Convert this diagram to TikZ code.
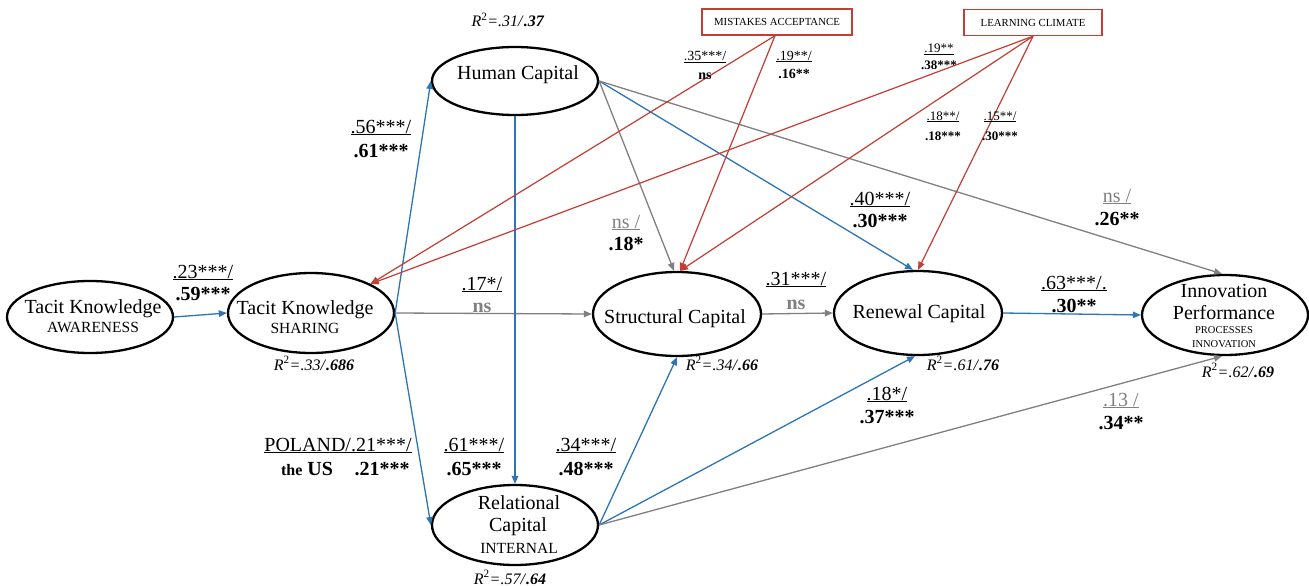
\documentclass[tikz,border=0pt]{standalone}
\usepackage{fontspec}
\setmainfont{Liberation Serif}
\usetikzlibrary{shapes.geometric,arrows.meta}
\definecolor{cblue}{RGB}{46,117,182}
\definecolor{cred}{RGB}{196,62,52}
\definecolor{cgray}{RGB}{128,128,128}
\newcommand{\twolab}[7]{%
  \node[#2,anchor=base] (#1t) at (#3,#4) {#6};
  \node[#2,anchor=base] (#1b) at (#3,#5) {#7};}
\newcommand{\rsq}[2]{\textit{R}\textsuperscript{2}\textit{=#1/}\textbf{\textit{#2}}}
\begin{document}
\begin{tikzpicture}[x=1pt,y=-1pt,
  ell/.style={draw, ellipse, line width=2.3pt, inner sep=0pt},
  conn/.style={line width=1.3pt, -{Triangle[length=8pt,width=6.5pt]}},
  blu/.style={conn, draw=cblue, fill=cblue},
  gry/.style={conn, draw=cgray, fill=cgray},
  rd/.style={conn, draw=cred, fill=cred, line width=1.2pt},
  modbox/.style={draw=cred, line width=1.4pt, minimum height=26pt, inner sep=0pt, font=\fontsize{10.8}{12}\selectfont},
  ttl/.style={inner sep=0pt, font=\fontsize{20}{22}\selectfont},
  sub/.style={inner sep=0pt, font=\fontsize{15.5}{17}\selectfont},
  tinysub/.style={inner sep=0pt, font=\fontsize{10.5}{12}\selectfont},
  elbl/.style={inner sep=0pt, font=\fontsize{20}{22}\selectfont},
  slbl/.style={inner sep=0pt, font=\fontsize{14}{16}\selectfont},
  xlbl/.style={inner sep=0pt, font=\fontsize{13}{15}\selectfont},
  rlbl/.style={inner sep=0pt, font=\fontsize{16}{18}\selectfont}]
\useasboundingbox (0,0) rectangle (1309,586);

% ellipses
\node[ell, minimum width=166pt, minimum height=72pt] (aw) at (90,317) {};
\node[ell, minimum width=166pt, minimum height=80pt] (sh) at (311,313) {};
\node[ell, minimum width=166pt, minimum height=68pt] (hc) at (515,81) {};
\node[ell, minimum width=168pt, minimum height=84pt] (sc) at (677,314) {};
\node[ell, minimum width=168pt, minimum height=84pt] (rn) at (918,313) {};
\node[ell, minimum width=166pt, minimum height=80pt] (ip) at (1225,315) {};
\node[ell, minimum width=166pt, minimum height=80pt] (rc) at (515,525) {};

% ellipse texts
\node[ttl, anchor=base] (awT) at (93,313) {Tacit Knowledge};
\node[sub, anchor=base] (awS) at (93,332) {AWARENESS};
\node[ttl, anchor=base] (shT) at (305,314) {Tacit Knowledge};
\node[sub, anchor=base] (shS) at (305,333) {SHARING};
\node[ttl, anchor=base] (hcT) at (518,79) {Human Capital};
\node[ttl, anchor=base] (scT) at (675,323) {Structural Capital};
\node[ttl, anchor=base] (rnT) at (919,318) {Renewal Capital};
\node[ttl, anchor=base] (ipT1) at (1224,297) {Innovation};
\node[ttl, anchor=base] (ipT2) at (1224,319) {Performance};
\node[tinysub, anchor=base] (ipS1) at (1224,333) {PROCESSES};
\node[tinysub, anchor=base] (ipS2) at (1224,347) {INNOVATION};
\node[ttl, anchor=base] (rcT1) at (519,509) {Relational};
\node[ttl, anchor=base] (rcT2) at (518,531) {Capital};
\node[sub, anchor=base] (rcS) at (519,553) {INTERNAL};

% moderator boxes
\node[modbox, minimum width=150pt] (ma) at (777,22) {MISTAKES ACCEPTANCE};
\node[modbox, minimum width=138pt] (lc) at (1033,22.5) {LEARNING CLIMATE};

% connectors
\draw[blu] (aw.east) -- (sh.west);
\draw[blu] (sh.east) -- (hc.west);
\draw[blu] (sh.east) -- (rc.west);
\draw[gry] (sh.east) -- (sc.west);
\draw[blu] (hc.south) -- (rc.north);
\draw[gry] (hc.east) -- ([xshift=-3pt]sc.north);
\draw[blu] (hc.east) -- ([xshift=-5pt]rn.north);
\draw[gry] (hc.east) -- ([xshift=-3pt]ip.north);
\draw[gry] (sc.east) -- (rn.west);
\draw[blu] (rn.east) -- (ip.west);
\draw[blu] (rc.east) -- (sc.south);
\draw[blu] (rc.east) -- ([xshift=-3pt]rn.south);
\draw[gry] (rc.east) -- ([xshift=-3pt]ip.south);
\draw[rd] ([xshift=-2pt]ma.south) -- (sh.north east);
\draw[rd] (lc.south) -- (sh.north east);
\draw[rd] ([xshift=-2pt]ma.south) -- ([xshift=3pt]sc.north);
\draw[rd] (lc.south) -- ([xshift=3pt]sc.north);
\draw[rd] (lc.south) -- (rn.north);

% edge labels
\twolab{la}{elbl}{203}{278}{300}{\underline{.23***/}}{\textbf{.59***}}
\twolab{lb}{elbl}{381}{133}{157}{\underline{.56***/}}{\textbf{.61***}}
\twolab{lc}{elbl}{482}{290}{312}{\underline{.17*/}}{\textcolor{cgray}{\textbf{ns}}}
\twolab{ld}{elbl}{626}{228}{250}{\textcolor{cgray}{\underline{ns /}}}{\textbf{.18*}}
\twolab{le}{elbl}{880}{205}{227}{\underline{.40***/}}{\textbf{.30***}}
\twolab{lf}{elbl}{796}{285}{309}{\underline{.31***/}}{\textcolor{cgray}{\textbf{ns}}}
\twolab{lg}{elbl}{1074}{289}{312}{\underline{.63***/.}}{\textbf{.30**}}
\twolab{lh}{elbl}{1117}{202}{225}{\textcolor{cgray}{\underline{ns /}}}{\textbf{.26**}}
\twolab{li}{elbl}{1121}{406}{429}{\textcolor{cgray}{\underline{.13 /}}}{\textbf{.34**}}
\twolab{lj}{elbl}{887}{400}{423}{\underline{.18*/}}{\textbf{.37***}}
\twolab{lk}{elbl}{586}{451}{475}{\underline{.34***/}}{\textbf{.48***}}
\twolab{ll}{elbl}{474}{451}{475}{\underline{.61***/}}{\textbf{.65***}}
\node[elbl, anchor=base] (lmt) at (338,451) {\underline{POLAND/.21***/}};
\node[elbl, anchor=base] (lmb) at (307,475) {\textbf{{\fontsize{16}{18}\selectfont the} US}};
\node[elbl, anchor=base] (lmc) at (382,475) {\textbf{.21***}};
\twolab{ln}{slbl}{705}{61}{79}{\underline{.35***/}}{\textbf{ns}}
\twolab{lo}{slbl}{794}{60}{78}{\underline{.19**/}}{\textbf{.16**}}
\twolab{lp}{xlbl}{939}{53}{70}{\underline{.19**}}{\textbf{.38***}}
\twolab{lq}{xlbl}{943}{120}{140}{\underline{.18**/}}{\textbf{.18***}}
\twolab{lr}{xlbl}{1000}{120}{140}{\underline{.15**/}}{\textbf{.30***}}

% R squared labels
\node[rlbl, anchor=base] (r1) at (314,370) {\rsq{.33}{.686}};
\node[rlbl, anchor=base] (r2) at (508,27) {\rsq{.31}{.37}};
\node[rlbl, anchor=base] (r3) at (722,370) {\rsq{.34}{.66}};
\node[rlbl, anchor=base] (r4) at (963,370) {\rsq{.61}{.76}};
\node[rlbl, anchor=base] (r5) at (1238,377) {\rsq{.62}{.69}};
\node[rlbl, anchor=base] (r6) at (510,584) {\rsq{.57}{.64}};
\end{tikzpicture}
\end{document}
